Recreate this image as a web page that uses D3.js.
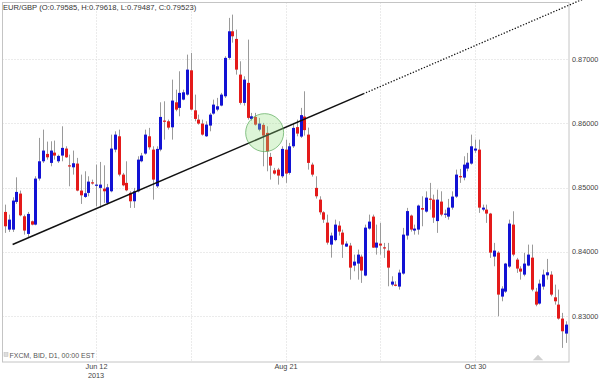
<!DOCTYPE html>
<html><head><meta charset="utf-8">
<script src="https://cdn.jsdelivr.net/npm/d3@7"></script>
<style>body{margin:0;background:#fff}svg{display:block;font-family:"Liberation Sans",Arial,sans-serif}</style>
</head><body><svg id="c" width="600" height="378"></svg>
<script>
const title = "EUR/GBP (O:0.79585, H:0.79618, L:0.79487, C:0.79523)";
const sourceLabel = "FXCM, BID, D1, 00:00 EST";
// trading-day index of the first candle (index 0 = May 8 2013)
const firstIndex = 1;
// [open, high, low, close] per trading day
const ohlc = [
[.84619,.84733,.84292,.84395],[.84343,.84577,.84307,.84499],[.84343,.84847,.84307,.84796],[.84775,.85159,.84744,.84931],
[.84905,.84952,.84551,.84566],[.84551,.84577,.84265,.84328],[.84276,.84619,.84223,.84588],[.84473,.84484,.84410,.84421],
[.84421,.85175,.84410,.85139],[.85139,.85774,.85108,.85409],[.85409,.85903,.85384,.85576],[.85524,.85716,.85435,.85471],
[.85384,.85721,.85331,.85576],[.85544,.85732,.85435,.85498],[.85409,.85513,.85384,.85493],[.85498,.85955,.85409,.85618],
[.85607,.85643,.85462,.85471],[.85346,.85513,.85019,.85342],[.85315,.85576,.85201,.85378],[.85373,.85462,.84941,.84952],
[.84952,.85201,.84744,.84878],[.84853,.85253,.84838,.84910],[.84916,.85175,.84863,.85092],[.85081,.85123,.85045,.85072],
[.85040,.85357,.84707,.85045],[.84994,.85399,.84682,.85045],[.84983,.85346,.84760,.84941],[.84760,.85056,.84733,.85003],
[.84941,.85825,.84925,.85607],[.85591,.85877,.85549,.85825],[.85799,.85903,.85175,.85201],[.85201,.85228,.85019,.85034],
[.85072,.85409,.84941,.84956],[.84916,.84941,.84682,.84785],[.84785,.84994,.84682,.84941],[.84941,.85487,.84925,.85435],
[.85409,.85540,.85393,.85498],[.85529,.85903,.85513,.85825],[.85799,.85930,.85591,.85627],[.85591,.85643,.84811,.85123],
[.85019,.85643,.84994,.85602],[.85591,.86329,.85565,.86101],[.86044,.86345,.85747,.86033],[.86033,.86059,.85903,.85934],
[.85939,.86683,.85747,.86356],[.86329,.86527,.86189,.86215],[.86242,.86813,.86111,.86476],[.86371,.86527,.86360,.86485],
[.86449,.87073,.86434,.86839],[.86828,.87100,.86204,.86215],[.86204,.86449,.86033,.86070],[.86059,.86137,.85981,.85997],
[.85997,.86059,.85810,.85825],[.85799,.86033,.85789,.85981],[.85966,.86164,.85877,.86137],[.86153,.86371,.86137,.86293],
[.86215,.86398,.86189,.86267],[.86278,.86476,.86267,.86449],[.86423,.87047,.86398,.87022],[.87022,.87646,.86995,.87437],
[.87437,.87697,.87260,.87359],[.87318,.87463,.86761,.86839],[.86761,.86969,.86293,.86320],[.86320,.86735,.86278,.86683],
[.86632,.87307,.86059,.86086],[.86070,.86164,.86044,.86111],[.86101,.86164,.85966,.85981],[.85903,.86086,.85877,.85997],
[.85977,.86008,.85331,.85810],[.85852,.85955,.85253,.85565],[.85477,.85540,.85123,.85342],[.85268,.85306,.85201,.85217],
[.85279,.85306,.85045,.85186],[.85175,.85643,.85150,.85602],[.85591,.85747,.85072,.85217],[.85228,.85696,.85201,.85643],
[.85643,.86008,.85618,.85930],[.85942,.86059,.85799,.85841],[.85794,.86242,.85774,.86129],[.86106,.86501,.85810,.85895],
[.85825,.85934,.85279,.85384],[.85357,.85388,.85170,.85201],[.84994,.85175,.84827,.84863],[.84811,.84863,.84577,.84613],
[.84613,.84629,.84448,.84499],[.84452,.84577,.84109,.84140],[.84109,.84296,.83906,.84250],[.84179,.84499,.84161,.84421],
[.84406,.84473,.84250,.84312],[.84296,.84343,.83902,.84109],[.84078,.84161,.84073,.84125],[.84094,.84136,.83563,.83750],
[.83782,.83953,.83693,.83844],[.83813,.84031,.83563,.83953],[.83922,.83953,.83512,.83704],[.83626,.84421,.83615,.84374],
[.84359,.84577,.84343,.84468],[.84546,.84577,.84058,.84062],[.84062,.84421,.83953,.84140],[.84125,.84448,.83953,.84094],
[.84067,.84136,.83902,.84062],[.84016,.84136,.83459,.83750],[.83485,.83615,.83459,.83532],[.83485,.83537,.83459,.83480],
[.83454,.83719,.83407,.83672],[.83657,.84370,.83641,.84265],[.84250,.84682,.84187,.84632],[.84562,.84577,.84312,.84343],
[.84328,.84421,.84265,.84359],[.84343,.84733,.84265,.84718],[.84679,.84863,.84395,.84655],[.84624,.84940,.84608,.84842],
[.84827,.85072,.84655,.84811],[.84811,.84889,.84448,.84530],[.84476,.84967,.84292,.84811],[.84780,.84941,.84551,.84577],
[.84585,.84655,.84526,.84593],[.84546,.84822,.84499,.84686],[.84686,.84940,.84655,.84858],[.84858,.85279,.84838,.85201],
[.85178,.85290,.85072,.85162],[.85154,.85487,.85112,.85357],[.85295,.85540,.85253,.85388],[.85373,.85825,.85357,.85643],
[.85576,.85747,.85540,.85607],[.85591,.85747,.84604,.84686],[.84655,.84733,.84629,.84686],[.84655,.84733,.84448,.84593],
[.84593,.84604,.83902,.83984],[.83922,.84136,.83771,.84016],[.83984,.84005,.82991,.83329],[.83298,.83459,.83225,.83423],
[.83376,.83824,.83356,.83813],[.83766,.84499,.83746,.84437],[.84421,.84629,.83927,.83953],[.83875,.83902,.83668,.83735],
[.83735,.83771,.83563,.83688],[.83641,.83980,.83615,.83813],[.83782,.84109,.83771,.83953],[.83906,.84109,.83381,.83407],
[.83376,.83434,.83147,.83173],[.83189,.83563,.83173,.83501],[.83454,.83719,.83407,.83641],[.83630,.83886,.83563,.83677],
[.83641,.83693,.83303,.83329],[.83287,.83485,.83173,.83225],[.83173,.83407,.82939,.82955],[.82955,.83044,.82498,.82757],
[.82721,.82913,.82576,.82861]
];
const yTicks = [0.83, 0.84, 0.85, 0.86, 0.87];
const xTickIndex = [25, 75, 125];
const xTickLabels = ["Jun 12", "Aug 21", "Oct 30"];
const xTickSub = ["2013", "", ""];
const gridIndex = [25, 50, 75, 100, 125];
const trendSolid = [[3, 0.8411], [95.5, 0.8646]];
const trendDotted = [[95.5, 0.8646], [155.5, 0.8799]];
const highlight = [69.5, 0.85856];

(function () {
const svg = d3.select("#c");
const pL = 2.5, pT = 2.5, pR = 569, pB = 362;
const x = d3.scaleLinear().domain([0, 150]).range([1.25, 569.75]);
const y = d3.scaleLinear().domain([0.83, 0.87]).range([315.7, 59.3]);

// grid
const grid = svg.append("g").attr("stroke", "#d6d6d6").attr("stroke-dasharray", "1,2");
grid.selectAll("line.h").data(yTicks).join("line").attr("class", "h")
  .attr("x1", pL).attr("x2", pR).attr("y1", d => Math.round(y(d)) + 0.5).attr("y2", d => Math.round(y(d)) + 0.5);
grid.selectAll("line.v").data(gridIndex).join("line").attr("class", "v")
  .attr("y1", pT).attr("y2", pB).attr("x1", d => Math.round(x(d)) + 0.5).attr("x2", d => Math.round(x(d)) + 0.5);

// frame
svg.append("rect").attr("x", pL).attr("y", pT).attr("width", pR - pL).attr("height", pB - pT)
  .attr("fill", "none").attr("stroke", "#c4c4c4");

// candles
const candles = ohlc.map((d, i) => ({i: i + firstIndex, o: d[0], h: d[1], l: d[2], c: d[3]}));
const cg = svg.append("g");
cg.selectAll("line").data(candles).join("line")
  .attr("x1", d => Math.round(x(d.i)) + 0.5).attr("x2", d => Math.round(x(d.i)) + 0.5)
  .attr("y1", d => y(d.h)).attr("y2", d => y(d.l))
  .attr("stroke", "#9a9a9a").attr("stroke-width", 1);
cg.selectAll("rect").data(candles).join("rect")
  .attr("x", d => Math.round(x(d.i)) - 1).attr("width", 3)
  .attr("y", d => y(Math.max(d.o, d.c)))
  .attr("height", d => Math.max(1.2, Math.abs(y(d.o) - y(d.c))))
  .attr("fill", d => d.c >= d.o ? "#1212d4" : "#e41a1a");

// trend line
const line = d3.line().x(d => x(d[0])).y(d => y(d[1]));
svg.append("path").attr("d", line(trendSolid)).attr("fill", "none").attr("stroke", "#111").attr("stroke-width", 1.5);
svg.append("path").attr("d", line(trendDotted)).attr("fill", "none").attr("stroke", "#111")
  .attr("stroke-width", 1.3).attr("stroke-dasharray", "1.3,1.7");

// highlight circle
svg.append("circle").attr("cx", x(highlight[0])).attr("cy", y(highlight[1])).attr("r", 19)
  .attr("fill", "rgba(150,225,130,0.32)").attr("stroke", "rgba(90,170,90,0.7)").attr("stroke-width", 1);

// y axis
const ya = svg.append("g").attr("transform", `translate(${pR},0)`)
  .call(d3.axisRight(y).tickValues(yTicks).tickFormat(d3.format(".5f")).tickSize(0).tickPadding(3));
ya.select(".domain").remove();
ya.selectAll("text").attr("font-size", "7.3px").attr("fill", "#444").attr("font-family", "Liberation Sans, Arial, sans-serif");

// x axis
const xa = svg.append("g").attr("transform", `translate(0,${pB})`)
  .call(d3.axisBottom(x).tickValues(xTickIndex).tickFormat((d, k) => xTickLabels[k]).tickSize(0).tickPadding(1.5));
xa.select(".domain").remove();
xa.selectAll("text").attr("font-size", "7.3px").attr("fill", "#444").attr("font-family", "Liberation Sans, Arial, sans-serif");
svg.append("g").selectAll("text").data(xTickIndex).join("text")
  .attr("x", d => x(d)).attr("y", 377.5).attr("text-anchor", "middle")
  .attr("font-size", "7.3px").attr("fill", "#444").text((d, k) => xTickSub[k]);

// title
svg.append("text").attr("x", 3).attr("y", 10).attr("font-size", "7.6px").attr("fill", "#333").text(title);

// source label with icon
svg.append("rect").attr("x", 4).attr("y", 352.5).attr("width", 4).attr("height", 4).attr("fill", "#ddd").attr("stroke", "#bbb").attr("stroke-width", 0.5);
svg.append("text").attr("x", 9.5).attr("y", 358).attr("font-size", "7px").attr("fill", "#555").text(sourceLabel);

// small scroll marker
svg.append("path").attr("d", d3.symbol(d3.symbolTriangle, 28)()).attr("transform", "translate(538,358.5) scale(1.3,0.8)").attr("fill", "#d0d0d0");
})();
</script></body></html>
